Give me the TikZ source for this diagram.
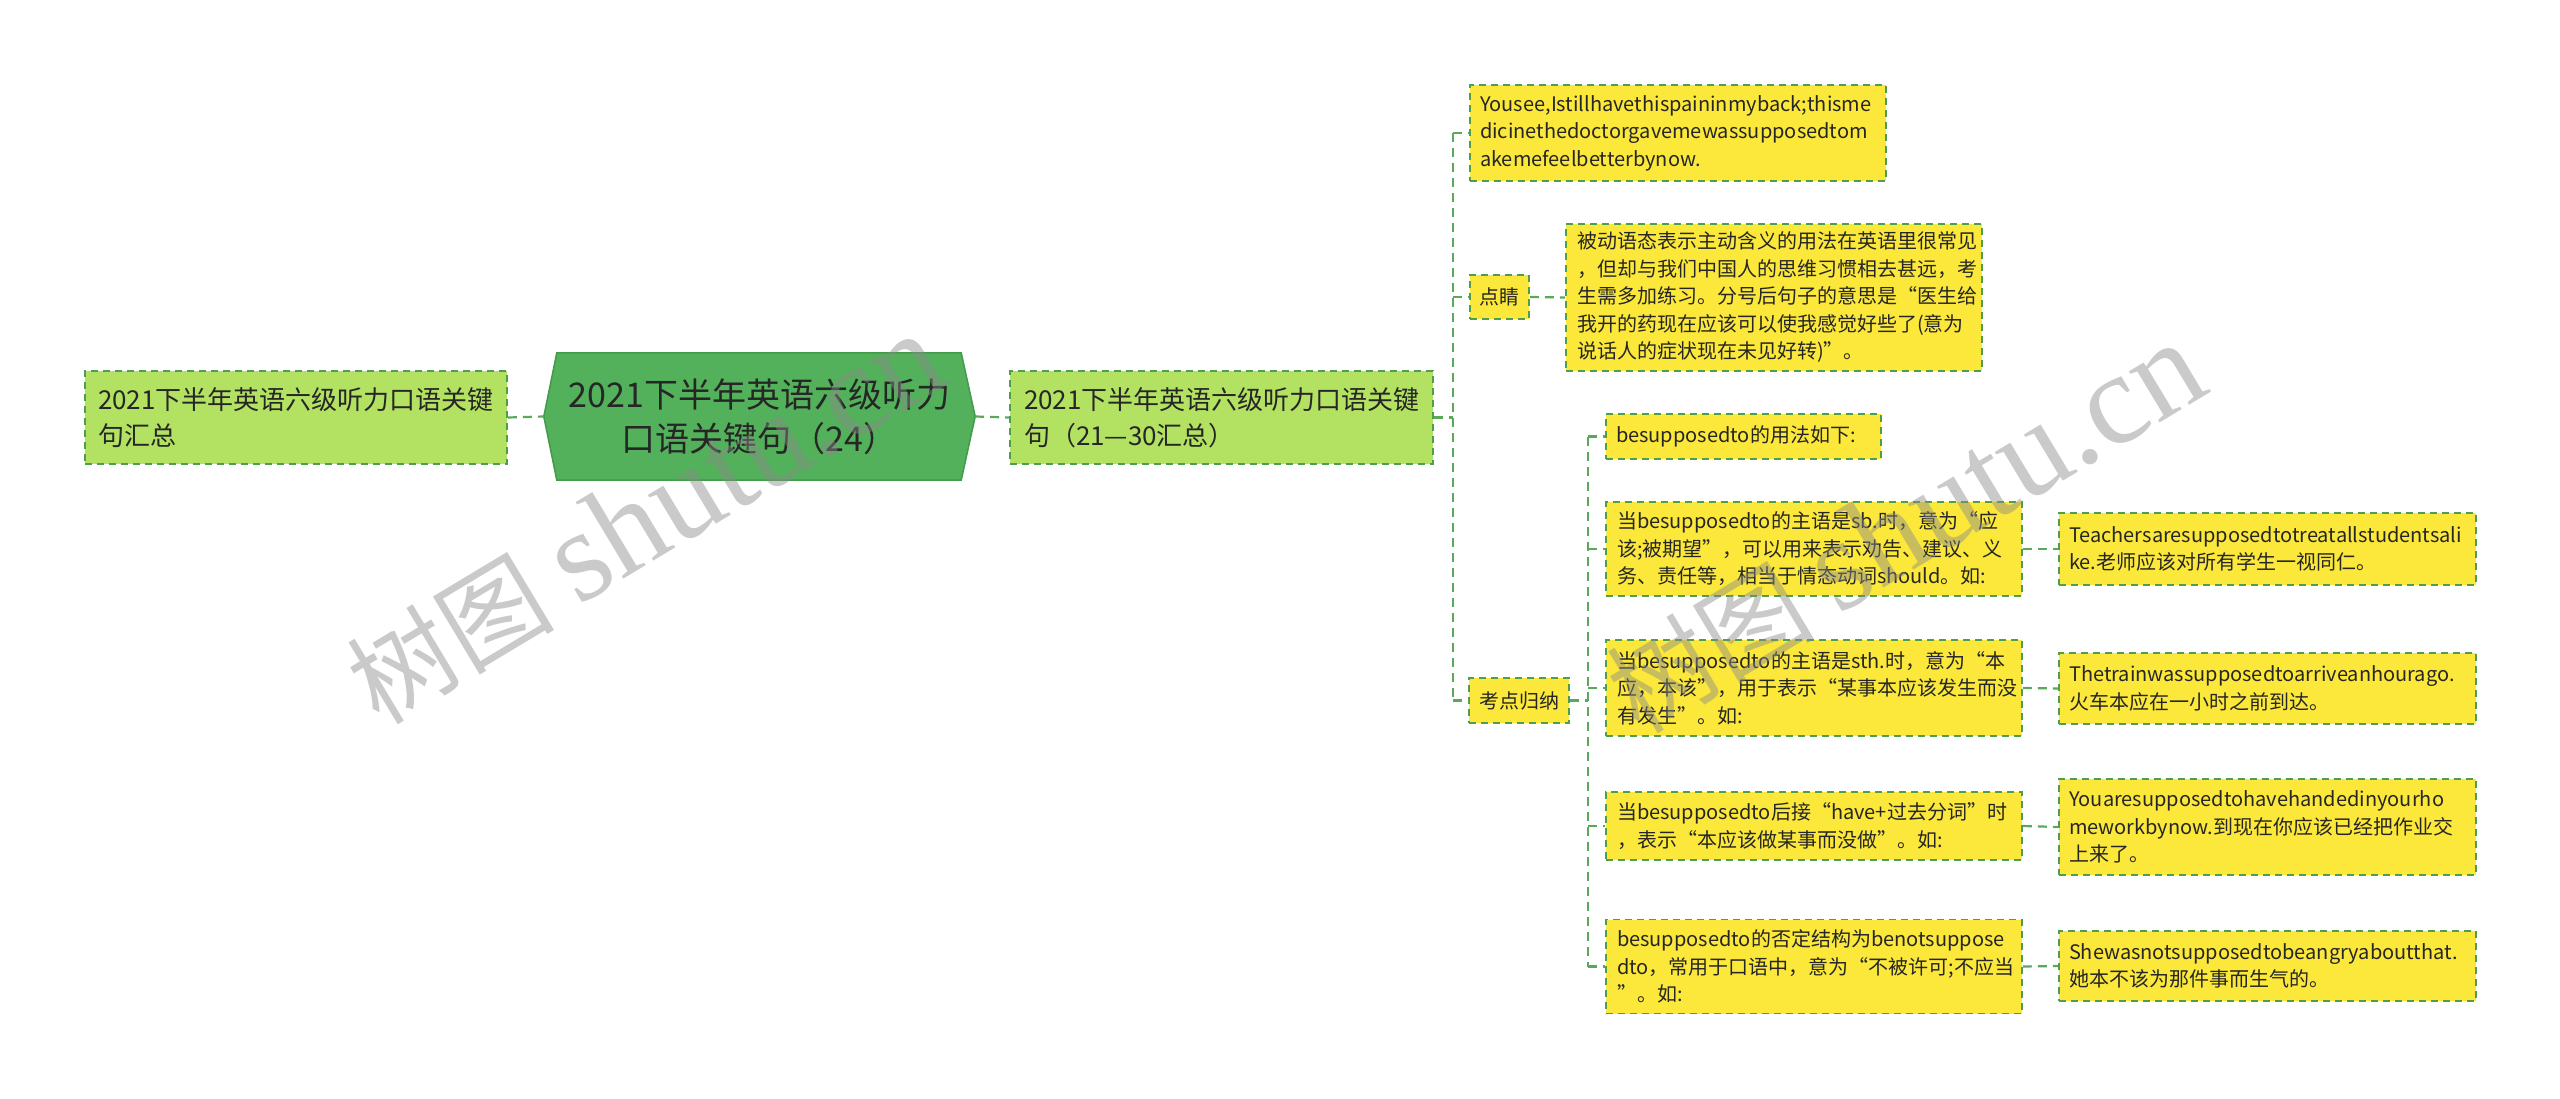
\documentclass[tikz,border=0pt]{standalone}
\usepackage{fontspec}
\setmainfont{Noto Sans CJK SC}
\newfontfamily\wmlat{Liberation Serif}
\usetikzlibrary{backgrounds}
\definecolor{lgreen}{HTML}{B3E262}
\definecolor{ygold}{HTML}{FBE83A}
\definecolor{bgreen}{HTML}{4E9E4E}
\definecolor{lnk}{HTML}{5AA85A}
\definecolor{cfill}{HTML}{52B15A}
\definecolor{cdraw}{HTML}{429A4A}
\definecolor{txt}{HTML}{262626}
\definecolor{wm}{HTML}{8A8A8A}
\tikzset{
  box/.style={draw=bgreen, line width=1.6pt, dash pattern=on 7pt off 5pt, inner sep=0pt, align=left, text=txt},
  gbox/.style={box, fill=lgreen, font=\fontsize{26}{36}\selectfont},
  ybox/.style={box, fill=ygold, font=\fontsize{20}{27.5}\selectfont},
  link/.style={draw=lnk, line width=2.2pt, dash pattern=on 9pt off 6pt},
  wmark/.style={rotate=31, text=wm, text opacity=0.45, inner sep=0pt},
}
\begin{document}
\begin{tikzpicture}[x=1pt,y=-1pt]
\begin{scope}[on background layer]
\fill[white] (0,0) rectangle (2560,1099);
\end{scope}
\useasboundingbox (0,0) rectangle (2560,1099);

% main nodes
\node[gbox, minimum width=422pt, minimum height=93pt, text width=396pt] (L) at (296,417.5) {2021下半年英语六级听力口语关键\\句汇总};
\node[inner sep=0pt, minimum width=431pt, minimum height=127pt, align=center, text=txt, font=\fontsize{34}{44}\selectfont] (C) at (759.5,416.5) {2021下半年英语六级听力\\口语关键句（24）};
\begin{scope}[on background layer]
\filldraw[fill=cfill, draw=cdraw, line width=1.5pt] ([xshift=13pt]C.north west) -- ([xshift=-14pt]C.north east) -- (C.east) -- ([xshift=-14pt]C.south east) -- ([xshift=13pt]C.south west) -- (C.west) -- cycle;
\end{scope}
\node[gbox, minimum width=423pt, minimum height=93pt, text width=395pt] (M) at (1221.5,417.5) {2021下半年英语六级听力口语关键\\句（21—30汇总）};

% level 2
\node[ybox, minimum width=416pt, minimum height=96pt, text width=396pt] (Y1) at (1678,133) {Yousee,Istillhavethispaininmyback;thisme\\dicinethedoctorgavemewassupposedtom\\akemefeelbetterbynow.};
\node[ybox, minimum width=59pt, minimum height=44pt, align=center] (D) at (1499.5,297) {点睛};
\node[ybox, minimum width=416pt, minimum height=147pt, text width=394pt] (DT) at (1774,297.5) {被动语态表示主动含义的用法在英语里很常见\\，但却与我们中国人的思维习惯相去甚远，考\\生需多加练习。分号后句子的意思是“医生给\\我开的药现在应该可以使我感觉好些了(意为\\说话人的症状现在未见好转)”。};
\node[ybox, minimum width=100pt, minimum height=45pt, align=center] (K) at (1519,700.5) {考点归纳};

% level 3
\node[ybox, minimum width=275pt, minimum height=45pt, text width=255pt] (B0) at (1743.5,436.5) {besupposedto的用法如下:};
\node[ybox, minimum width=416pt, minimum height=94pt, text width=394pt] (B1) at (1814,549) {当besupposedto的主语是sb.时，意为“应\\该;被期望”，可以用来表示劝告、建议、义\\务、责任等，相当于情态动词should。如:};
\node[ybox, minimum width=416pt, minimum height=96pt, text width=394pt] (B2) at (1814,688) {当besupposedto的主语是sth.时，意为“本\\应，本该”，用于表示“某事本应该发生而没\\有发生”。如:};
\node[ybox, minimum width=416pt, minimum height=68pt, text width=394pt] (B3) at (1814,826) {当besupposedto后接“have+过去分词”时\\，表示“本应该做某事而没做”。如:};
\node[ybox, minimum width=416pt, minimum height=94pt, text width=394pt] (B4) at (1814,966.5) {besupposedto的否定结构为benotsuppose\\dto，常用于口语中，意为“不被许可;不应当\\”。如:};

% level 4
\node[ybox, minimum width=417pt, minimum height=72pt, text width=397pt] (T1) at (2267.5,549) {Teachersaresupposedtotreatallstudentsali\\ke.老师应该对所有学生一视同仁。};
\node[ybox, minimum width=417pt, minimum height=71pt, text width=397pt] (T2) at (2267.5,688.5) {Thetrainwassupposedtoarriveanhourago.\\火车本应在一小时之前到达。};
\node[ybox, minimum width=417pt, minimum height=96pt, text width=397pt] (T3) at (2267.5,827) {Youaresupposedtohavehandedinyourho\\meworkbynow.到现在你应该已经把作业交\\上来了。};
\node[ybox, minimum width=417pt, minimum height=70pt, text width=397pt] (T4) at (2267.5,966) {Shewasnotsupposedtobeangryaboutthat.\\她本不该为那件事而生气的。};

% connectors
\draw[link] (L.east) -- (C.west);
\draw[link] (C.east) -- (M.west);
\path (M.east) ++(19pt,0) coordinate (tj);
\draw[link] (M.east) -- (tj);
\draw[link] (tj |- Y1.west) -- (tj |- K.west);
\foreach \n in {Y1,D,K} \draw[link] (tj |- \n.west) -- (\n.west);
\draw[link] (D.east) -- (DT.west);
\path (K.east) ++(18pt,0) coordinate (tk);
\draw[link] (K.east) -- (tk);
\draw[link] (tk |- B0.west) -- (tk |- B4.west);
\foreach \n in {B0,B1,B2,B3,B4} \draw[link] (tk |- \n.west) -- (\n.west);
\draw[link] (B1.east) -- (T1.west);
\draw[link] (B2.east) -- (T2.west);
\draw[link] (B3.east) -- (T3.west);
\draw[link] (B4.east) -- (T4.west);

% watermarks
\node[wmark] (wm1) at (645,519) {{\fontsize{104}{104}\selectfont 树图}\hspace{24pt}{\wmlat\fontsize{130}{130}\selectfont shutu.cn}};
\node[wmark] (wm2) at (1905,528) {{\fontsize{104}{104}\selectfont 树图}\hspace{24pt}{\wmlat\fontsize{130}{130}\selectfont shutu.cn}};
\end{tikzpicture}
\end{document}
